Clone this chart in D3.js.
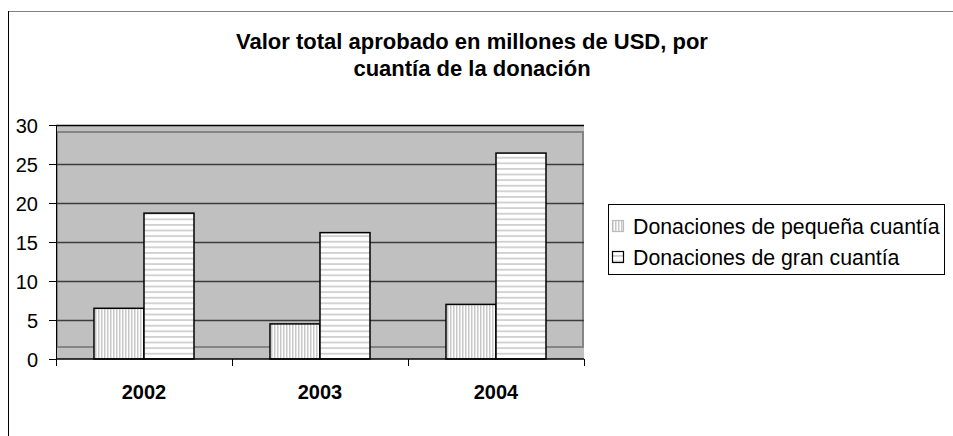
<!DOCTYPE html>
<html>
<head>
  <meta charset="utf-8">
  <script src="https://d3js.org/d3.v7.min.js"></script>
  <style>
    body { margin: 0; background: #fff; }
    text { font-family: "Liberation Sans", Arial, sans-serif; fill: #000; }
    .title { font-size: 22px; font-weight: bold; text-anchor: middle; }
    .axis text { font-size: 20px; }
    .axis--x text { font-weight: bold; }
    .legend-label { font-size: 21.3px; }
  </style>
</head>
<body>
  <svg width="953" height="436"></svg>
  <script>
    var years = ["2002", "2003", "2004"];
    var seriesNames = ["Donaciones de pequeña cuantía", "Donaciones de gran cuantía"];
    var smallGrants = [6.5, 4.5, 7.0];
    var largeGrants = [18.7, 16.2, 26.4];
    var yTicks = [0, 5, 10, 15, 20, 25, 30];

    var svg = d3.select("svg");
    var plot = {left: 56, right: 584, top: 125, bottom: 359};

    var data = years.map(function(y, i) {
      return {year: y, values: [smallGrants[i], largeGrants[i]]};
    });

    // patterns for the bar fills
    var defs = svg.append("defs");
    var pv = defs.append("pattern").attr("id", "vstripe")
      .attr("patternUnits", "userSpaceOnUse").attr("width", 3).attr("height", 3);
    pv.append("rect").attr("width", 3).attr("height", 3).attr("fill", "#fff");
    pv.append("rect").attr("x", 0).attr("width", 1.5).attr("height", 3).attr("fill", "#c8c8c8");

    var ph = defs.append("pattern").attr("id", "hstripe")
      .attr("patternUnits", "userSpaceOnUse").attr("width", 6).attr("height", 5.6);
    ph.append("rect").attr("width", 6).attr("height", 5.6).attr("fill", "#fff");
    ph.append("rect").attr("y", 0).attr("width", 6).attr("height", 1.8).attr("fill", "#cfcfcf");
    var fills = ["url(#vstripe)", "url(#hstripe)"];

    // outer frame (only top and left visible)
    svg.append("path").attr("d", "M8.5,436 V11.5 H953")
      .attr("fill", "none").attr("stroke", "#808080").attr("stroke-width", 1);
    svg.append("line").attr("x1", 8.5).attr("x2", 8.5).attr("y1", 11).attr("y2", 436)
      .attr("stroke", "#000");

    // title
    svg.append("text").attr("class", "title").attr("x", 472).attr("y", 49)
      .text("Valor total aprobado en millones de USD, por");
    svg.append("text").attr("class", "title").attr("x", 472).attr("y", 76)
      .text("cuantía de la donación");

    var x = d3.scaleBand().domain(years).range([plot.left, plot.right]).padding(0);
    var x1 = d3.scaleBand().domain([0, 1]).range([0, x.bandwidth()])
      .paddingInner(0).paddingOuter(0.76);
    var y = d3.scaleLinear().domain([0, 30]).range([plot.bottom, plot.top]);

    // plot background
    svg.append("rect")
      .attr("x", plot.left).attr("y", plot.top)
      .attr("width", plot.right - plot.left).attr("height", plot.bottom - plot.top)
      .attr("fill", "#c0c0c0");
    // lighter inner frame
    svg.append("rect")
      .attr("x", plot.left + 1).attr("y", 132)
      .attr("width", plot.right - plot.left - 2).attr("height", 347 - 132)
      .attr("fill", "none").attr("stroke", "#858585").attr("stroke-width", 2);

    // gridlines
    svg.append("g").selectAll("line")
      .data(yTicks.filter(d => d > 0))
      .join("line")
        .attr("x1", plot.left).attr("x2", plot.right)
        .attr("y1", d => Math.round(y(d)) + 0.5).attr("y2", d => Math.round(y(d)) + 0.5)
        .attr("stroke", d => d === 30 ? "#000" : "#3c3c3c")
        .attr("stroke-width", 1.3);

    // bars
    var groups = svg.append("g").selectAll("g")
      .data(data).join("g")
        .attr("transform", d => "translate(" + x(d.year) + ",0)");
    groups.selectAll("rect")
      .data(d => d.values.map((v, i) => ({i: i, v: v})))
      .join("rect")
        .attr("x", d => x1(d.i))
        .attr("y", d => y(d.v))
        .attr("width", x1.bandwidth())
        .attr("height", d => y(0) - y(d.v))
        .attr("fill", d => fills[d.i])
        .attr("stroke", "#000")
        .attr("stroke-width", 1.5);

    // y axis
    var yAxis = svg.append("g").attr("class", "axis axis--y")
      .attr("transform", "translate(" + plot.left + ",0)")
      .call(d3.axisLeft(y).tickValues(yTicks).tickSize(7).tickPadding(11).tickSizeOuter(0));
    yAxis.select(".domain").attr("stroke", "#000");
    yAxis.selectAll("text").attr("dy", "0.36em");

    // x axis
    var xAxis = svg.append("g").attr("class", "axis axis--x")
      .attr("transform", "translate(0," + plot.bottom + ")");
    xAxis.append("line").attr("x1", plot.left).attr("x2", plot.right)
      .attr("stroke", "#000").attr("stroke-width", 1.3);
    xAxis.selectAll(".tk")
      .data(years.map(d => x(d)).concat([x.range()[1]]))
      .join("line").attr("class", "tk")
        .attr("x1", d => d + 0.5).attr("x2", d => d + 0.5)
        .attr("y1", 0).attr("y2", 7).attr("stroke", "#000");
    xAxis.selectAll("text")
      .data(years).join("text")
        .attr("x", d => x(d) + x.bandwidth() / 2)
        .attr("y", 40)
        .attr("text-anchor", "middle")
        .text(d => d);

    // legend
    var legend = svg.append("g");
    legend.append("rect").attr("x", 608.5).attr("y", 204.5).attr("width", 336).attr("height", 70)
      .attr("fill", "#fff").attr("stroke", "#000");
    var items = legend.selectAll("g.item").data(seriesNames).join("g").attr("class", "item")
      .attr("transform", (d, i) => "translate(0," + (i * 31) + ")");
    items.append("rect").attr("x", 612.5).attr("y", 220.5).attr("width", 11).attr("height", 11)
      .attr("fill", (d, i) => fills[i])
      .attr("stroke", (d, i) => i === 0 ? "#bbb" : "#000")
      .attr("stroke-width", 1.2);
    items.append("text").attr("class", "legend-label").attr("x", 633).attr("y", 234)
      .text(d => d);
  </script>
</body>
</html>
